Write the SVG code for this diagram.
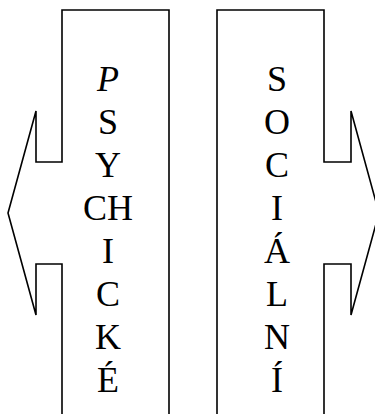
<svg xmlns="http://www.w3.org/2000/svg" width="375" height="414" viewBox="0 0 375 414">
<style>
.shape{fill:none;stroke:#000;stroke-width:1.6;stroke-linejoin:miter}
text{font-family:'Liberation Serif','Times New Roman',Times,serif;font-size:36px;fill:#000;text-anchor:middle}
</style>
<rect width="375" height="414" fill="#fff"/>
<g id="psychicke" font-family="Liberation Serif, serif">
<polyline class="shape" points="62,416 62,264 36,264 36,315 8,213 36,111 36,162 62,162 62,10 169,10 169,416"/>
<text x="108" y="91" font-style="italic">P</text>
<text x="108" y="134">S</text>
<text x="108" y="177">Y</text>
<text x="108" y="220">CH</text>
<text x="108" y="263">I</text>
<text x="108" y="306">C</text>
<text x="108" y="349">K</text>
<text x="108" y="392">É</text>
</g>
<g id="socialni">
<polyline class="shape" points="217,416 217,10 324,10 324,162 351,162 351,111 379,213 351,315 351,264 324,264 324,416"/>
<text x="277" y="91">S</text>
<text x="277" y="134">O</text>
<text x="277" y="177">C</text>
<text x="277" y="220">I</text>
<text x="277" y="263">Á</text>
<text x="277" y="306">L</text>
<text x="277" y="349">N</text>
<text x="277" y="392">Í</text>
</g>
<g id="connectors"></g>
</svg>
